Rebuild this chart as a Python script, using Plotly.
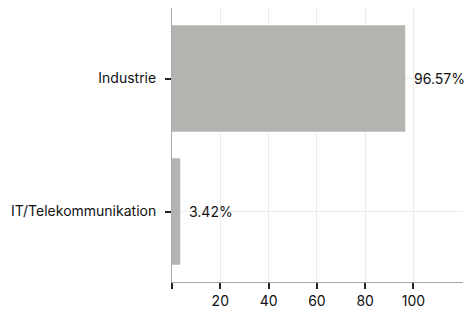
import plotly.graph_objects as go

categories = ["Industrie", "IT/Telekommunikation"]
values = [96.57, 3.42]
labels = ["96.57%", "3.42%"]
x_tickvals = [0, 20, 40, 60, 80, 100]
x_ticktext = ["", "20", "40", "60", "80", "100"]

fig = go.Figure()
fig.add_trace(go.Bar(
    y=categories, x=values, orientation="h",
    marker=dict(color="#b4b3af", line=dict(width=0)),
    hoverinfo="skip", width=0.8,
))
for c, v, t in zip(categories, values, labels):
    fig.add_annotation(x=v, y=c, text=t, showarrow=False, xanchor="left",
                       xshift=7, font=dict(size=14, color="#111111", family="Inter"))
fig.update_layout(
    width=464, height=313,
    margin=dict(l=172, r=1, t=8, b=31, autoexpand=False),
    paper_bgcolor="white", plot_bgcolor="white",
    font=dict(family="Inter", size=14, color="#111111"),
    showlegend=False,
)
fig.update_xaxes(
    range=[0, 120.5], tickvals=x_tickvals, ticktext=x_ticktext,
    showgrid=True, gridcolor="#ebebeb", gridwidth=1,
    showline=True, linecolor="#a8a8a8", linewidth=1,
    ticks="outside", ticklen=6, tickcolor="#222222", tickwidth=2,
    zeroline=False, automargin=False,
)
fig.update_yaxes(
    range=[1.53, -0.53],
    showgrid=True, gridcolor="#ebebeb", gridwidth=1,
    showline=True, linecolor="#a8a8a8", linewidth=1,
    ticks="outside", ticklen=6, tickcolor="#222222", tickwidth=2,
    ticklabelstandoff=6, automargin=False,
)
fig.write_html(
    "out.html",
    config={"displayModeBar": False},
    post_script="document.body.style.margin='0';document.body.style.overflow='hidden';",
)
